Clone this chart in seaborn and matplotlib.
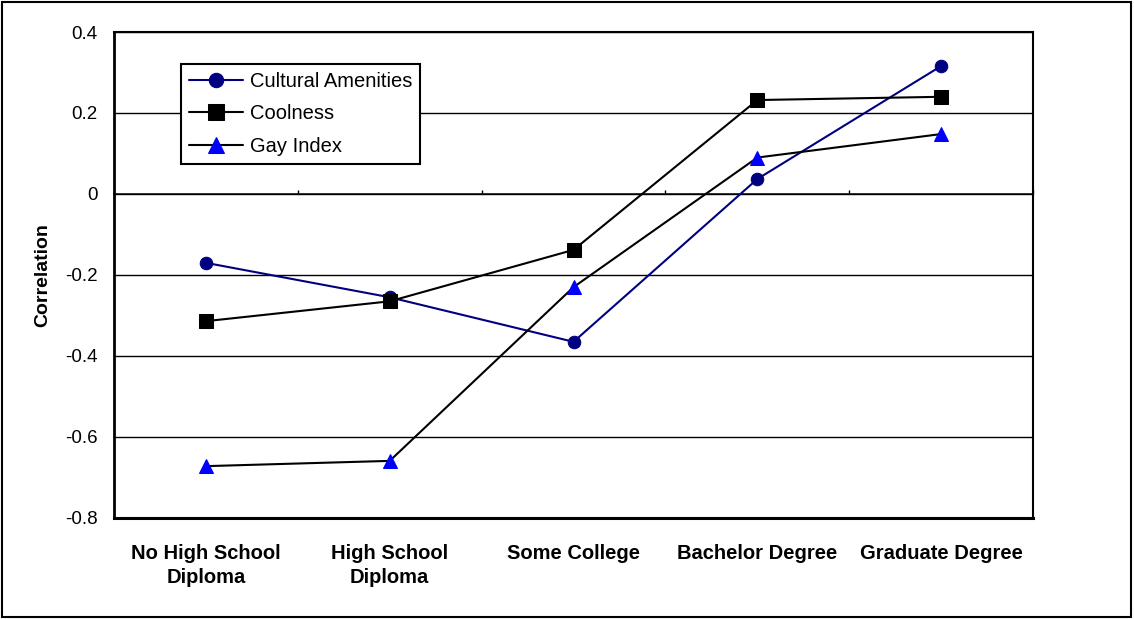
import matplotlib
matplotlib.use("Agg")
import matplotlib.pyplot as plt
from matplotlib.patches import Rectangle
import seaborn as sns
import pandas as pd

# Education categories and correlations for each measure
categories = ["No High School\nDiploma", "High School\nDiploma", "Some College",
              "Bachelor Degree", "Graduate Degree"]
cultural_amenities = [-0.170, -0.255, -0.365, 0.037, 0.316]
coolness = [-0.314, -0.265, -0.138, 0.232, 0.240]
gay_index = [-0.672, -0.659, -0.230, 0.090, 0.148]
y_ticks = [-0.8, -0.6, -0.4, -0.2, 0, 0.2, 0.4]
y_tick_labels = ["-0.8", "-0.6", "-0.4", "-0.2", "0", "0.2", "0.4"]

sns.set_theme(style="white")
plt.rcParams["font.family"] = ["Liberation Sans", "DejaVu Sans"]
plt.rcParams["text.color"] = "black"
plt.rcParams["axes.labelcolor"] = "black"
plt.rcParams["xtick.color"] = "black"
plt.rcParams["ytick.color"] = "black"

pos = list(range(len(categories)))
df = pd.DataFrame({
    "pos": pos * 3,
    "value": cultural_amenities + coolness + gay_index,
    "series": (["Cultural Amenities"] * 5 + ["Coolness"] * 5 + ["Gay Index"] * 5),
})

fig = plt.figure(figsize=(11.34, 6.19), dpi=100)
ax = fig.add_axes([0.1005, 0.1632, 0.8105, 0.7851])

styles = {
    "Cultural Amenities": dict(color="#000080", marker="o", mfc="#000080", mec="#000080", ms=9),
    "Coolness": dict(color="black", marker="s", mfc="black", mec="black", ms=9.5),
    "Gay Index": dict(color="black", marker="^", mfc="#0000FF", mec="#0000FF", ms=10),
}

for name, st in styles.items():
    sub = df[df["series"] == name]
    sns.lineplot(data=sub, x="pos", y="value", ax=ax, color=st["color"], lw=1.5,
                 marker=st["marker"], markersize=st["ms"],
                 markerfacecolor=st["mfc"], markeredgecolor=st["mec"],
                 label=name, legend=False)

ax.set_xlim(-0.5, len(categories) - 0.5)
ax.set_ylim(-0.8, 0.4)

# Horizontal gridlines
for v in y_ticks[1:]:
    ax.axhline(v, color="black", lw=1.0, zorder=0.5)

# Zero line acts as the category axis with boundary ticks
sec = ax.secondary_xaxis(0.8 / 1.2)
sec.set_xticks([p - 0.5 for p in pos] + [len(categories) - 0.5])
sec.set_xticklabels([])
sec.tick_params(axis="x", direction="out", length=3, width=1, color="black")
sec.spines["bottom"].set_linewidth(1.5)
sec.spines["bottom"].set_color("black")

ax.set_xticks(pos)
ax.set_xticklabels(categories, fontsize=14.5, fontweight="bold", color="black",
                   linespacing=1.3)
ax.tick_params(axis="x", length=0, pad=19)

ax.set_yticks(y_ticks)
ax.set_yticklabels(y_tick_labels, fontsize=13.5, color="black")
ax.tick_params(axis="y", direction="out", length=6, width=1.2, color="black", pad=6)

ax.set_xlabel("")
ax.set_ylabel("Correlation", fontsize=14, fontweight="bold", labelpad=10, color="black")

for side in ["left", "right", "top", "bottom"]:
    ax.spines[side].set_visible(True)
    ax.spines[side].set_color("black")
ax.spines["left"].set_linewidth(2)
ax.spines["bottom"].set_linewidth(2.2)
ax.spines["top"].set_linewidth(1.5)
ax.spines["right"].set_linewidth(1.5)

leg = ax.legend(loc="upper left", bbox_to_anchor=(0.073, 0.934), frameon=True,
                fancybox=False, edgecolor="black", fontsize=14.5, handlelength=2.7,
                handletextpad=0.3, borderpad=0.4, labelspacing=0.66,
                borderaxespad=0, markerscale=1.15)
leg.get_frame().set_linewidth(1.5)
leg.get_frame().set_alpha(1)
for t in leg.get_texts():
    t.set_color("black")

# Outer frame around the whole figure
fig.patches.append(Rectangle((0.002, 0.003), 0.995, 0.994, transform=fig.transFigure,
                             fill=False, edgecolor="black", lw=1.5))

fig.savefig("out.png", dpi=100)
